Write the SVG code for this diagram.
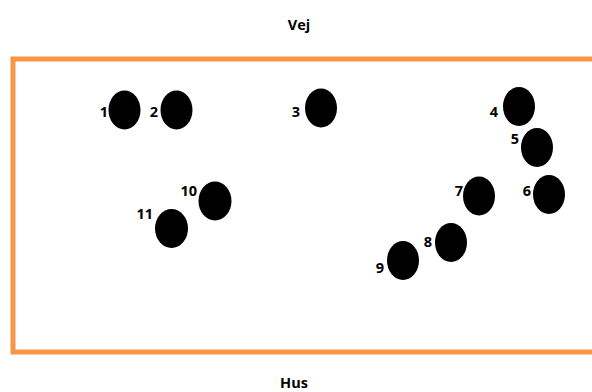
<svg xmlns="http://www.w3.org/2000/svg" width="592" height="392" viewBox="0 0 592 392">
  <style>
    .lbl { font-family: "Open Sans", "Liberation Sans", sans-serif; font-weight: bold; font-size: 14.5px; fill: #000; }
    .post { fill: #000; }
  </style>
  <rect width="592" height="392" fill="#fff"/>
  <!-- plot boundary, open on the right edge -->
  <rect id="plot" x="13" y="59" width="600" height="293" fill="none" stroke="#F79646" stroke-width="5"/>
  <text class="lbl" x="299" y="30" text-anchor="middle">Vej</text>
  <text class="lbl" x="294" y="388" text-anchor="middle">Hus</text>

  <g id="n1"><ellipse class="post" cx="124.5" cy="110" rx="16" ry="19.5"/><text class="lbl" x="108" y="117" text-anchor="end">1</text></g>
  <g id="n2"><ellipse class="post" cx="176.5" cy="110" rx="16" ry="19.5"/><text class="lbl" x="158" y="117" text-anchor="end">2</text></g>
  <g id="n3"><ellipse class="post" cx="321" cy="108" rx="16" ry="19.5"/><text class="lbl" x="300" y="117" text-anchor="end">3</text></g>
  <g id="n4"><ellipse class="post" cx="519" cy="106.5" rx="16" ry="19.5"/><text class="lbl" x="498" y="117" text-anchor="end">4</text></g>
  <g id="n5"><ellipse class="post" cx="537" cy="147.5" rx="16" ry="19.5"/><text class="lbl" x="519" y="144" text-anchor="end">5</text></g>
  <g id="n6"><ellipse class="post" cx="549" cy="194.5" rx="16" ry="19.5"/><text class="lbl" x="531" y="196" text-anchor="end">6</text></g>
  <g id="n7"><ellipse class="post" cx="479" cy="196" rx="16" ry="19.5"/><text class="lbl" x="463" y="196" text-anchor="end">7</text></g>
  <g id="n8"><ellipse class="post" cx="451" cy="242.5" rx="16" ry="19.5"/><text class="lbl" x="432" y="247" text-anchor="end">8</text></g>
  <g id="n9"><ellipse class="post" cx="403" cy="260.5" rx="16" ry="19.5"/><text class="lbl" x="384" y="273" text-anchor="end">9</text></g>
  <g id="n10"><ellipse class="post" cx="215" cy="201" rx="16.5" ry="19.5"/><text class="lbl" x="197" y="196" text-anchor="end">10</text></g>
  <g id="n11"><ellipse class="post" cx="171.5" cy="228.5" rx="16.5" ry="19.5"/><text class="lbl" x="153" y="219" text-anchor="end">11</text></g>
</svg>
